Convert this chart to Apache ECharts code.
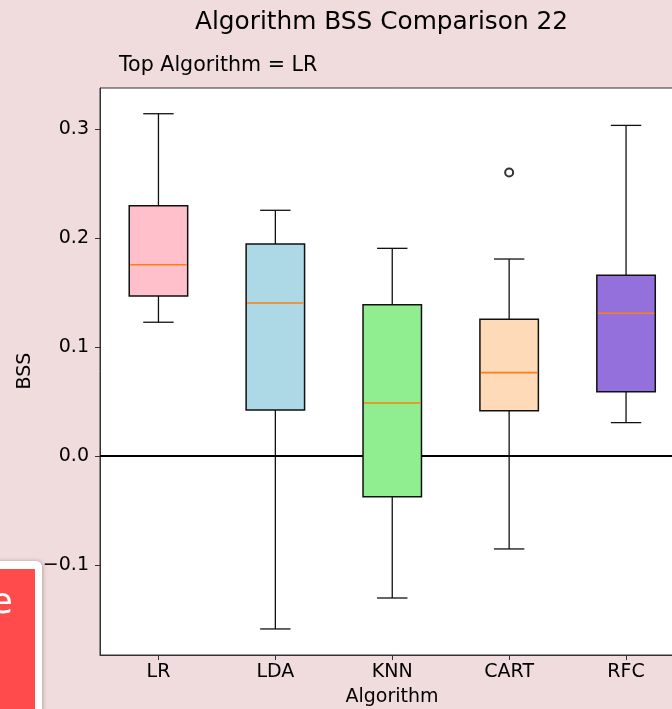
<!DOCTYPE html>
<html>
<head>
<meta charset="utf-8">
<script src="https://cdn.jsdelivr.net/npm/echarts@6/dist/echarts.min.js"></script>
<style>
html,body{margin:0;padding:0;overflow:hidden;background:#f0dcdc;}
#main{width:700px;height:709px;}
</style>
</head>
<body>
<div id="main"></div>
<script>
// ---- data ----
const categories = ['LR', 'LDA', 'KNN', 'CART', 'RFC'];
const whiskerLow  = [0.1227, -0.1587, -0.1303, -0.0853, 0.0306];
const q1Values    = [0.1468,  0.0422, -0.0373,  0.0416, 0.0590];
const medians     = [0.1755,  0.1404,  0.0486,  0.0765, 0.1309];
const q3Values    = [0.2296,  0.1945,  0.1388,  0.1254, 0.1657];
const whiskerHigh = [0.3140,  0.2254,  0.1905,  0.1807, 0.3033];
const boxColors   = ['#ffc0cb', '#add8e6', '#90ee90', '#ffdab9', '#9370db'];
const outliers    = [['CART', 0.260]];
const yTicks      = [-0.1, 0.0, 0.1, 0.2, 0.3];

const FONT = 'DejaVu Sans';
const chart = echarts.init(document.getElementById('main'));

const boxData = categories.map((c, i) => ({
  value: [i, whiskerLow[i], q1Values[i], medians[i], q3Values[i], whiskerHigh[i]],
  color: boxColors[i]
}));

function fmt(v) {
  const s = Math.abs(v).toFixed(1);
  return v < -1e-9 ? '\u2212' + s : s;
}

const option = {
  backgroundColor: '#f0dcdc',
  animation: false,
  grid: {
    left: 100, top: 88, bottom: 54, right: 15.5,
    show: true, backgroundColor: '#ffffff', borderColor: '#333333', borderWidth: 1
  },
  xAxis: {
    type: 'category',
    data: categories,
    boundaryGap: true,
    axisLine: { show: true, onZero: false, lineStyle: { color: '#333333', width: 1 } },
    axisTick: { show: true, alignWithLabel: true, length: 5, lineStyle: { color: '#333333' } },
    axisLabel: { fontFamily: FONT, fontSize: 19, color: '#000', margin: 8 },
    splitLine: { show: false }
  },
  yAxis: {
    type: 'value',
    min: -0.1826,
    max: 0.3376,
    axisLine: { show: true, onZero: false, lineStyle: { color: '#333333', width: 1 } },
    axisTick: { show: true, length: 5, customValues: yTicks, lineStyle: { color: '#333333' } },
    axisLabel: { fontFamily: FONT, fontSize: 19, color: '#000', margin: 11, customValues: yTicks, formatter: fmt },
    splitLine: { show: false }
  },
  graphic: [
    { type: 'text', x: 381.5, y: 23, z: 10,
      style: { text: 'Algorithm BSS Comparison 22', font: '24.8px "DejaVu Sans"', fill: '#000', textAlign: 'center', textVerticalAlign: 'middle' } },
    { type: 'text', x: 119, y: 66, z: 10,
      style: { text: 'Top Algorithm = LR', font: '20.6px "DejaVu Sans"', fill: '#000', textAlign: 'left', textVerticalAlign: 'middle' } },
    { type: 'text', x: 25, y: 371, rotation: Math.PI / 2, z: 10,
      style: { text: 'BSS', font: '19px "DejaVu Sans"', fill: '#000', textAlign: 'center', textVerticalAlign: 'middle' } },
    { type: 'text', x: 392, y: 697, z: 10,
      style: { text: 'Algorithm', font: '19px "DejaVu Sans"', fill: '#000', textAlign: 'center', textVerticalAlign: 'middle' } },
    { type: 'rect', z: 20, shape: { x: -20, y: 561, width: 62, height: 170, r: 6 },
      style: { fill: '#ffffff', shadowBlur: 4, shadowColor: 'rgba(0,0,0,0.25)', shadowOffsetX: 1 } },
    { type: 'rect', z: 21, shape: { x: -20, y: 569, width: 55, height: 170 },
      style: { fill: '#ff4b4b' } },
    { type: 'text', x: 13, y: 604, z: 22,
      style: { text: 'e', font: '36px "DejaVu Sans"', fill: '#ffffff', textAlign: 'right', textVerticalAlign: 'middle' } }
  ],
  series: [
    {
      type: 'scatter',
      z: 1,
      symbol: 'emptyCircle',
      symbolSize: 8,
      itemStyle: { color: '#000000', borderWidth: 1.2 },
      data: outliers.map(o => [categories.indexOf(o[0]), o[1]]),
      markLine: {
        silent: true,
        symbol: 'none',
        label: { show: false },
        lineStyle: { color: '#000000', width: 2, type: 'solid' },
        data: [{ yAxis: 0 }]
      }
    },
    {
      type: 'custom',
      z: 5,
      data: boxData,
      renderItem: function (params, api) {
        const i = api.value(0);
        const band = api.size([1, 0])[0];
        const bw = band * 0.5;
        const cw = band * 0.26;
        const cx = api.coord([i, 0])[0];
        const y = v => api.coord([i, v])[1];
        const lo = y(api.value(1)), q1 = y(api.value(2)), md = y(api.value(3)), q3 = y(api.value(4)), hi = y(api.value(5));
        const color = boxData[params.dataIndex].color;
        const ls = { stroke: '#111111', lineWidth: 1.3 };
        return {
          type: 'group',
          children: [
            { type: 'line', shape: { x1: cx, y1: q3, x2: cx, y2: hi }, style: ls },
            { type: 'line', shape: { x1: cx, y1: q1, x2: cx, y2: lo }, style: ls },
            { type: 'line', shape: { x1: cx - cw / 2, y1: hi, x2: cx + cw / 2, y2: hi }, style: ls },
            { type: 'line', shape: { x1: cx - cw / 2, y1: lo, x2: cx + cw / 2, y2: lo }, style: ls },
            { type: 'rect', shape: { x: cx - bw / 2, y: q3, width: bw, height: q1 - q3 },
              style: { fill: color, stroke: '#111111', lineWidth: 1.5 } },
            { type: 'line', shape: { x1: cx - bw / 2 + 1, y1: md, x2: cx + bw / 2 - 1, y2: md },
              style: { stroke: '#ff7f0e', lineWidth: 1.6 } }
          ]
        };
      }
    }
  ]
};
chart.setOption(option);
</script>
</body>
</html>
